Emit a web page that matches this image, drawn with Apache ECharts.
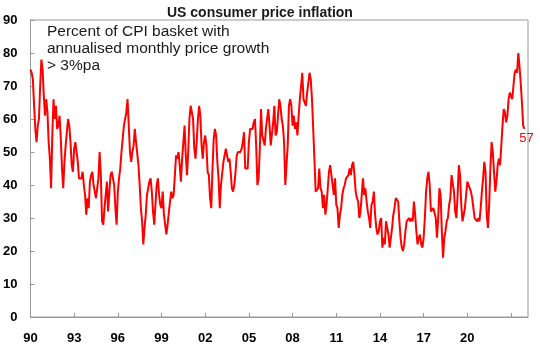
<!DOCTYPE html>
<html>
<head>
<meta charset="utf-8">
<script src="https://cdn.jsdelivr.net/npm/echarts@6.0.0/dist/echarts.min.js"></script>
<style>
  html, body { margin: 0; padding: 0; background: #fff; }
  #chart { width: 540px; height: 351px; }
</style>
</head>
<body>
<div id="chart"></div>
<script>
// monthly, Jan 1990 onwards: % of CPI basket with annualised monthly growth > 3%pa
const cpiBreadth = [
  75, 74, 72, 64, 57, 53, 58, 60, 70, 78,
  75, 67, 61, 66, 62, 53, 48, 39, 55, 66,
  60, 64, 57, 58, 61, 54, 45, 39, 47, 52,
  56, 60, 58, 53, 46, 44, 51, 53, 53, 47,
  42, 42, 42, 44, 40, 37, 31, 36, 33, 41,
  43, 44, 40, 38, 36, 36, 42, 50, 43, 29,
  28, 33, 37, 41, 32, 38, 43, 44, 44, 40,
  33, 28, 38, 42, 45, 50, 54, 58, 58, 62,
  66, 58, 50, 47, 50, 52, 57, 53, 53, 46,
  40, 33, 29, 22, 27, 31, 37, 39, 41, 42,
  38, 32, 28, 28, 40, 42, 37, 34, 33, 38,
  31, 28, 25, 28, 28, 35, 38, 36, 37, 43,
  49, 48, 50, 46, 41, 48, 53, 58, 49, 43,
  50, 60, 64, 64, 60, 51, 48, 53, 60, 64,
  61, 52, 48, 53, 55, 52, 44, 43, 36, 33,
  45, 54, 57, 55, 47, 42, 33, 40, 40, 47,
  49, 51, 49, 47, 48, 44, 39, 38, 40, 44,
  49, 50, 50, 50, 51, 53, 56, 45, 45, 45,
  53, 57, 57, 57, 59, 60, 52, 40, 42, 51,
  63, 55, 55, 52, 57, 60, 63, 58, 52, 52,
  59, 64, 55, 56, 61, 66, 64, 60, 58, 53,
  40, 40, 52, 64, 66, 64, 58, 61, 57, 59,
  55, 61, 66, 70, 74, 66, 66, 64, 68, 71,
  74, 72, 66, 57, 48, 38, 38, 39, 45, 39,
  38, 33, 37, 31, 34, 39, 44, 46, 43, 43,
  37, 42, 34, 33, 27, 31, 33, 37, 39, 40,
  42, 42, 43, 45, 43, 46, 47, 43, 38, 36,
  35, 30, 32, 32, 42, 37, 39, 35, 32, 30,
  27, 34, 35, 38, 31, 27, 25, 26, 29, 30,
  21, 24, 22, 29, 29, 25, 21, 21, 27, 31,
  33, 36, 36, 35, 29, 24, 21, 20, 22, 26,
  29, 29, 30, 29, 30, 29, 35, 31, 26, 22,
  24, 25, 22, 21, 24, 30, 38, 42, 44, 40,
  32, 32, 33, 33, 30, 24, 30, 39, 37, 26,
  18, 24, 26, 29, 30, 34, 36, 43, 43, 38,
  32, 30, 37, 46, 43, 34, 29, 31, 33, 37,
  41, 41, 39, 38, 36, 33, 30, 30, 29, 30,
  29, 33, 38, 42, 47, 44, 31, 27, 34, 45,
  53, 50, 44, 38, 41, 46, 48, 46, 52, 58,
  63, 62, 59, 61, 66, 68, 68, 66, 70, 74,
  75, 74, 80, 76, 71, 65, 58, 57
];
const yearLabels = ['90', '93', '96', '99', '02', '05', '08', '11', '14', '17', '20'];
const monthsPerLabel = 36;
const axisMonths = 410;

const font = 'Liberation Sans, Arial, sans-serif';
const chart = echarts.init(document.getElementById('chart'));

chart.setOption({
  animation: false,
  title: {
    text: 'US consumer price inflation',
    left: 162,
    top: 1,
    textStyle: { fontFamily: font, fontSize: 14, fontWeight: 'bold', color: '#1a1a1a' }
  },
  graphic: [{
    type: 'text',
    left: 47,
    top: 23,
    style: {
      text: 'Percent of CPI basket with\nannualised monthly price growth\n> 3%pa',
      font: '15.5px ' + font,
      lineHeight: 17,
      fill: '#1a1a1a'
    }
  }],
  grid: {
    left: 30,
    right: 12,
    top: 20,
    bottom: 34,
    show: true,
    borderColor: '#999',
    borderWidth: 1
  },
  xAxis: {
    type: 'value',
    min: 0,
    max: axisMonths,
    interval: monthsPerLabel,
    axisLine: { lineStyle: { color: '#999' } },
    axisTick: { inside: true, length: 4, lineStyle: { color: '#999' } },
    splitLine: { show: false },
    axisLabel: {
      margin: 15,
      showMaxLabel: false,
      fontFamily: font,
      fontSize: 13,
      fontWeight: 'bold',
      color: '#000',
      formatter: v => (v % monthsPerLabel === 0 ? (yearLabels[v / monthsPerLabel] || '') : '')
    }
  },
  yAxis: {
    type: 'value',
    min: 0,
    max: 90,
    interval: 10,
    axisLine: { show: true, lineStyle: { color: '#999' } },
    axisTick: { show: true, inside: true, length: 4, lineStyle: { color: '#999' } },
    splitLine: { show: false },
    axisLabel: {
      margin: 13,
      fontFamily: font,
      fontSize: 13,
      fontWeight: 'bold',
      color: '#000'
    }
  },
  series: [{
    type: 'line',
    data: cpiBreadth.map((v, i) => [i, v]),
    showSymbol: false,
    lineStyle: { color: '#ff0000', width: 2 },
    endLabel: {
      show: true,
      distance: 0,
      offset: [-5, 10],
      formatter: p => p.value[1],
      fontFamily: font,
      fontSize: 13,
      color: '#ff0000'
    }
  }]
});
</script>
</body>
</html>
